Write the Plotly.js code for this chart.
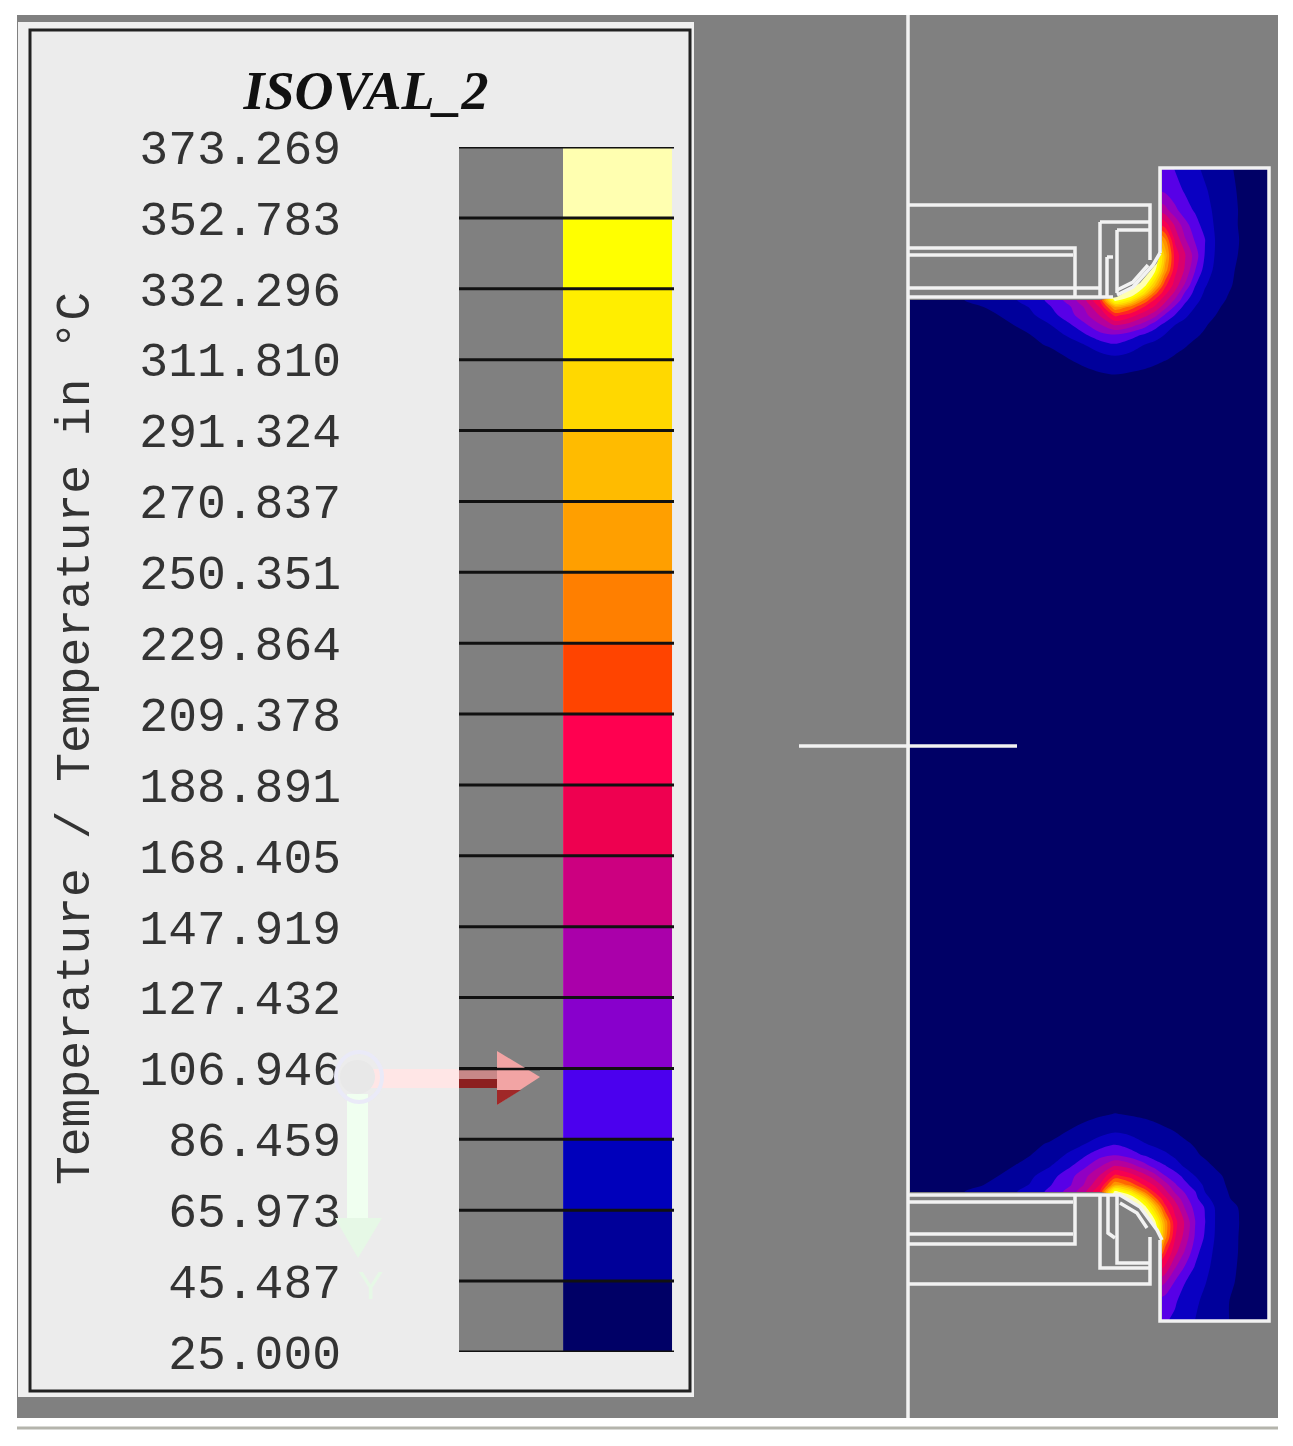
<!DOCTYPE html>
<html>
<head>
<meta charset="utf-8">
<script src="https://cdn.plot.ly/plotly-3.0.1.min.js"></script>
<style>
  html, body { margin: 0; padding: 0; background: #fff; }
  #plot { width: 1293px; height: 1446px; filter: blur(0.7px); }
</style>
</head>
<body>
<div id="plot"></div>
<script>
// legend levels, low to high
var levels = [25.000, 45.487, 65.973, 86.459, 106.946, 127.432, 147.919, 168.405, 188.891,
  209.378, 229.864, 250.351, 270.837, 291.324, 311.810, 332.296, 352.783, 373.269];
var levelLabels = ["25.000", "45.487", "65.973", "86.459", "106.946", "127.432", "147.919", "168.405", "188.891",
  "209.378", "229.864", "250.351", "270.837", "291.324", "311.810", "332.296", "352.783", "373.269"];
var bandColors = ["#000066", "#000099", "#0000bb", "#4b00ee", "#8800cc", "#aa00aa", "#cc0080", "#ee0050", "#ff0050",
  "#ff4400", "#ff7f00", "#ff9f00", "#ffbb00", "#ffd800", "#ffee00", "#ffff00", "#ffffb0"];

// temperature field
var fieldX = [910, 960, 1000, 1030, 1050, 1070, 1085, 1100, 1115, 1130, 1145, 1155, 1165, 1175, 1185, 1195, 1205, 1215, 1228, 1240, 1268];
var fieldY = [168, 190, 210, 225, 240, 255, 270, 285, 293, 300, 307, 315, 325, 335, 345, 360, 375, 400,
  745,
  1090, 1114, 1129, 1144, 1155, 1166, 1176, 1185, 1192, 1199, 1207, 1222, 1237, 1252, 1267, 1282, 1302, 1320];
var fieldZ = [
  [90, 90, 90, 90, 90, 90, 90, 90, 90, 90, 90, 90, 90, 86, 78, 70, 62, 55, 48, 42, 28],
  [105, 105, 105, 105, 105, 105, 105, 105, 105, 105, 105, 105, 102, 94, 84, 76, 68, 60, 51, 43, 28],
  [150, 150, 150, 150, 150, 150, 150, 150, 150, 150, 150, 150, 135, 112, 95, 84, 72, 63, 53, 44, 28],
  [200, 200, 200, 200, 200, 200, 200, 200, 200, 200, 200, 200, 180, 145, 115, 95, 78, 64, 52, 44, 28],
  [285, 285, 285, 285, 285, 285, 285, 285, 285, 285, 285, 285, 235, 165, 130, 105, 87, 66, 52, 45, 28],
  [373, 373, 373, 373, 373, 373, 373, 373, 373, 373, 373, 360, 265, 180, 150, 118, 85, 65, 52, 44, 28],
  [373, 373, 373, 373, 373, 373, 373, 373, 373, 373, 373, 340, 245, 175, 145, 108, 78, 62, 50, 42, 27],
  [26, 44, 58, 72, 92, 115, 145, 190, 373, 373, 340, 270, 195, 160, 125, 88, 68, 57, 48, 41, 27],
  [26, 44, 58, 72, 92, 115, 145, 190, 373, 370, 290, 218, 175, 143, 105, 80, 63, 54, 46, 38, 26],
  [26, 44, 58, 72, 92, 115, 145, 190, 345, 305, 225, 185, 155, 125, 92, 73, 59, 52, 44, 36, 26],
  [25.5, 39, 50, 67, 85, 105, 130, 170, 250, 225, 185, 165, 135, 103, 80, 66, 57, 49, 41, 34, 26],
  [25.5, 36, 46, 62, 78, 100, 122, 150, 195, 180, 155, 135, 105, 86, 70, 59, 52, 46, 39, 31, 26],
  [25, 32, 40, 52, 65, 84, 103, 125, 150, 138, 115, 95, 80, 66, 59, 53, 47, 41, 35, 30, 25.5],
  [25, 28, 36, 45, 55, 70, 84, 100, 105, 95, 83, 75, 65, 58, 53, 48, 43, 37, 32, 28, 25],
  [25, 26, 32, 42, 47, 57, 66, 76, 84, 76, 65, 60, 55, 50, 47, 42, 37, 33, 29, 27, 25],
  [25, 25.5, 28, 33, 38, 45, 51, 56, 59, 56, 52, 49, 46, 43, 39, 35, 31, 29, 27, 26, 25],
  [25, 25, 26, 28, 31, 35, 39, 43, 45, 43, 41, 39, 36, 33, 31, 29, 28, 27, 26, 25.5, 25],
  [25, 25, 25, 25, 26, 27, 28, 29, 30, 29, 28, 28, 27, 27, 26, 26, 25.5, 25, 25, 25, 25],
  [25, 25, 25, 25, 25, 25, 25, 25, 25, 25, 25, 25, 25, 25, 25, 25, 25, 25, 25, 25, 25],
  [25, 25, 25, 25, 26, 27, 28, 30, 31, 30, 29, 28, 28, 27, 26.5, 26, 25.5, 25, 25, 25, 25],
  [25, 25, 26, 28, 31, 35, 39, 43, 46, 44, 42, 40, 37, 34, 32, 30, 28, 27, 26, 25.5, 25],
  [25, 25.5, 28, 33, 38, 45, 51, 56, 60, 57, 53, 50, 47, 44, 40, 36, 33, 30, 28, 26, 25],
  [25, 26, 32, 42, 47, 57, 66, 76, 85, 78, 67, 62, 57, 52, 48, 44, 39, 34, 30, 27, 25],
  [25, 28, 36, 45, 55, 70, 84, 100, 106, 96, 84, 76, 70, 62, 56, 48, 43, 38, 33, 29, 25],
  [25, 32, 40, 52, 65, 84, 103, 125, 150, 138, 115, 98, 88, 75, 63, 56, 50, 44, 37, 31, 25.5],
  [25.5, 36, 46, 62, 78, 100, 122, 150, 195, 180, 155, 135, 108, 96, 80, 66, 57, 50, 42, 34, 26],
  [25.5, 39, 50, 67, 85, 105, 130, 170, 250, 225, 185, 165, 138, 110, 92, 78, 62, 52, 44, 36, 26],
  [26, 44, 58, 72, 92, 115, 145, 190, 345, 305, 225, 185, 155, 125, 105, 88, 66, 54, 45.5, 38, 27],
  [26, 44, 58, 72, 92, 115, 145, 190, 373, 370, 290, 218, 175, 143, 115, 92, 75, 58, 47, 40, 27],
  [26, 44, 58, 72, 92, 115, 145, 190, 373, 373, 340, 270, 195, 160, 125, 100, 85, 65, 52, 44, 28],
  [373, 373, 373, 373, 373, 373, 373, 373, 373, 373, 373, 340, 245, 175, 145, 108, 87, 66, 52, 45, 28],
  [373, 373, 373, 373, 373, 373, 373, 373, 373, 373, 373, 365, 240, 170, 140, 105, 84, 65, 52, 44.5, 28],
  [285, 285, 285, 285, 285, 285, 285, 285, 285, 285, 285, 285, 195, 155, 125, 95, 75, 63, 53, 44, 28],
  [190, 190, 190, 190, 190, 190, 190, 190, 190, 190, 190, 190, 165, 130, 105, 85, 71, 61, 52, 43, 28],
  [145, 145, 145, 145, 145, 145, 145, 145, 145, 145, 145, 145, 130, 105, 87, 75, 67, 59, 50, 42, 28],
  [100, 100, 100, 100, 100, 100, 100, 100, 100, 100, 100, 100, 95, 88, 80, 69, 62, 54, 46, 41, 28],
  [90, 90, 90, 90, 90, 90, 90, 90, 90, 90, 90, 90, 88, 84, 73, 66, 60, 53, 46, 41, 28]
];

// gray solid parts, these cut the field
var solidTopX = [910, 1100, 1117, 1140, 1157, 1162, 1162, 910, 910];
var solidTopY = [300, 300, 297, 283, 263, 250, 168, 168, 300];
var solidBottomX = [910, 1100, 1120, 1140, 1157, 1162, 1162, 910, 910];
var solidBottomY = [1192, 1192, 1195, 1207, 1230, 1245, 1320, 1320, 1192];

// white mesh outlines
var meshX = [908, 908, null, 799, 1017, null,
  1160, 1160, 1269, 1269, 1160, 1160, null,
  908, 1150, 1150, null, 1100, 1150, null, 1100, 1100, null, 1117, 1150, null, 1117, 1117, null,
  1107, 1113, null, 1107, 1107, null, 908, 1075, 1075, null, 908, 1073, null, 908, 1100, null, 908, 1113, null,
  1117, 1133, 1148, null, 1160, 1153, 1133, 1117, null,
  908, 1120, 1140, 1157, 1162, null, 908, 1073, null, 1075, 1075, 908, null, 908, 1073, null,
  908, 1150, 1150, null, 1100, 1100, 1150, null, 1117, 1117, 1150, null, 1108, 1108, 1115, null, 1120, 1137, 1147];
var meshY = [15, 1418, null, 746, 746, null,
  253, 168, 168, 1321, 1321, 1240, null,
  205, 205, 260, null, 222, 222, null, 222, 298, null, 230, 230, null, 230, 293, null,
  257, 257, null, 257, 298, null, 248, 248, 298, null, 255, 255, null, 288, 288, null, 297, 297, null,
  290, 282, 265, null, 253, 265, 287, 295, null,
  1195, 1195, 1207, 1230, 1240, null, 1202, 1202, null, 1195, 1244, 1244, null, 1234, 1234, null,
  1284, 1284, 1237, null, 1195, 1268, 1268, null, 1195, 1263, 1263, null, 1195, 1233, 1238, null, 1203, 1213, 1228];

var W = 1293, H = 1446;

// black level lines over the legend
var lineX = [], lineY = [];
levels.forEach(function (v) {
  lineX.push(0, 1, null);
  lineY.push(v, v, null);
});

var heights = bandColors.map(function (c, i) { return levels[i + 1] - levels[i]; });
var bases = levels.slice(0, -1);

var contourScale = bandColors.map(function (c, i) { return [i / (bandColors.length - 1), c]; });

var field = {
  type: "contour",
  x: fieldX, y: fieldY, z: fieldZ,
  autocontour: false,
  contours: { start: levels[1], end: levels[16], size: (levels[17] - levels[0]) / 17, coloring: "fill", showlines: false },
  line: { width: 0, smoothing: 0.85 },
  colorscale: contourScale,
  showscale: false,
  hoverinfo: "skip"
};

function solid(xs, ys) {
  return { type: "scatter", mode: "lines", x: xs, y: ys, fill: "toself", fillcolor: "#808080",
    line: { width: 0, color: "#808080" }, hoverinfo: "skip" };
}

var mesh = {
  type: "scatter", mode: "lines", x: meshX, y: meshY,
  line: { color: "#f2f2f2", width: 3.5 }, hoverinfo: "skip", cliponaxis: false
};

var bars = {
  type: "bar", x: bandColors.map(function () { return 0.7375; }), y: heights, base: bases,
  width: 0.5067, marker: { color: bandColors, line: { width: 0 } },
  xaxis: "x2", yaxis: "y2", hoverinfo: "skip"
};

var levelLines = {
  type: "scatter", mode: "lines", x: lineX, y: lineY,
  line: { color: "#111", width: 3 }, xaxis: "x2", yaxis: "y2", cliponaxis: false, hoverinfo: "skip"
};

var layout = {
  width: W, height: H,
  margin: { l: 0, r: 0, t: 0, b: 0 },
  paper_bgcolor: "#fff",
  plot_bgcolor: "rgba(0,0,0,0)",
  showlegend: false,
  title: {
    text: "<b><i>ISOVAL_2</i></b>",
    font: { family: "Liberation Serif", size: 54, color: "#111" },
    x: 366 / W, xanchor: "center", y: 1 - 90 / H, yanchor: "middle"
  },
  xaxis: { range: [0, W], domain: [0, 1], visible: false, fixedrange: true },
  yaxis: { range: [H, 0], domain: [0, 1], visible: false, fixedrange: true },
  xaxis2: { range: [0, 1], domain: [459 / W, 674 / W], anchor: "y2", visible: false, fixedrange: true },
  yaxis2: {
    range: [levels[0], levels[17]],
    domain: [1 - 1352 / H, 1 - 147 / H],
    anchor: "free", position: 341 / W, overlaying: false,
    tickmode: "array", tickvals: levels, ticktext: levelLabels,
    tickfont: { family: "Liberation Mono", size: 48, color: "#333" },
    ticks: "", showgrid: false, zeroline: false, showline: false, fixedrange: true
  },
  annotations: [
    { xref: "paper", yref: "paper", x: 76 / W, y: 1 - 739 / H, xanchor: "center", yanchor: "middle",
      showarrow: false, textangle: -90,
      text: "Temperature / Temperature in °C",
      font: { family: "Liberation Mono", size: 48, color: "#333" } },
    { xref: "paper", yref: "paper", x: 370 / W, y: 1 - 1286 / H, xanchor: "center", yanchor: "middle",
      showarrow: false,
      text: "Y", font: { family: "Liberation Sans", size: 38, color: "#e6f8e6" } }
  ],
  shapes: [
    // window background and panel
    { type: "rect", layer: "below", xref: "x", yref: "y", x0: 17, x1: 1278, y0: 15, y1: 1418, fillcolor: "#808080", line: { width: 0 } },
    { type: "line", layer: "below", xref: "x", yref: "y", x0: 17, x1: 1278, y0: 1428, y1: 1428, line: { color: "#b4b4ac", width: 3 } },
    { type: "rect", layer: "below", xref: "x", yref: "y", x0: 18, x1: 694, y0: 22, y1: 1397, fillcolor: "#f0f0f0", line: { width: 0 } },
    { type: "rect", layer: "below", xref: "x", yref: "y", x0: 30, x1: 690, y0: 30, y1: 1391, fillcolor: "#ececec", line: { color: "#222", width: 3 } },
    { type: "rect", layer: "below", xref: "x", yref: "y", x0: 459, x1: 563, y0: 147, y1: 1352, fillcolor: "#808080", line: { width: 0 } },
    // axis gizmo, green arrow
    { type: "rect", xref: "x", yref: "y", x0: 347, x1: 368, y0: 1094, y1: 1222, fillcolor: "#f0fff0", line: { width: 0 } },
    { type: "path", xref: "x", yref: "y", path: "M335,1218 L382,1218 L358,1258 Z", fillcolor: "#e6f8e6", line: { width: 0 } },
    // red arrow
    { type: "rect", xref: "x", yref: "y", x0: 370, x1: 459, y0: 1069, y1: 1088, fillcolor: "#ffe6e6", line: { width: 0 } },
    { type: "rect", xref: "x", yref: "y", x0: 459, x1: 500, y0: 1070, y1: 1079, fillcolor: "#c88888", line: { width: 0 } },
    { type: "rect", xref: "x", yref: "y", x0: 459, x1: 500, y0: 1079, y1: 1088, fillcolor: "#8c2020", line: { width: 0 } },
    { type: "path", xref: "x", yref: "y", path: "M497,1051 L540,1077 L497,1105 Z", fillcolor: "#f2a4a4", line: { width: 0 } },
    { type: "path", xref: "x", yref: "y", path: "M497,1090 L521,1090 L497,1105 Z", fillcolor: "#a02828", line: { width: 0 } },
    { type: "line", xref: "x", yref: "y", x0: 459, x1: 540, y0: 1069, y1: 1069, line: { color: "#111", width: 2.5 } },
    // sphere with its halo
    { type: "circle", xref: "x", yref: "y", x0: 336, x1: 382, y0: 1052, y1: 1102, fillcolor: "rgba(0,0,0,0)", line: { color: "#eaeaf8", width: 4 } },
    { type: "circle", xref: "x", yref: "y", x0: 340, x1: 375, y0: 1060, y1: 1094, fillcolor: "#e8e8e8", line: { width: 0 } }
  ]
};

Plotly.newPlot("plot", [field, solid(solidTopX, solidTopY), solid(solidBottomX, solidBottomY), mesh, bars, levelLines], layout, { displayModeBar: false, staticPlot: true });
</script>
</body>
</html>
